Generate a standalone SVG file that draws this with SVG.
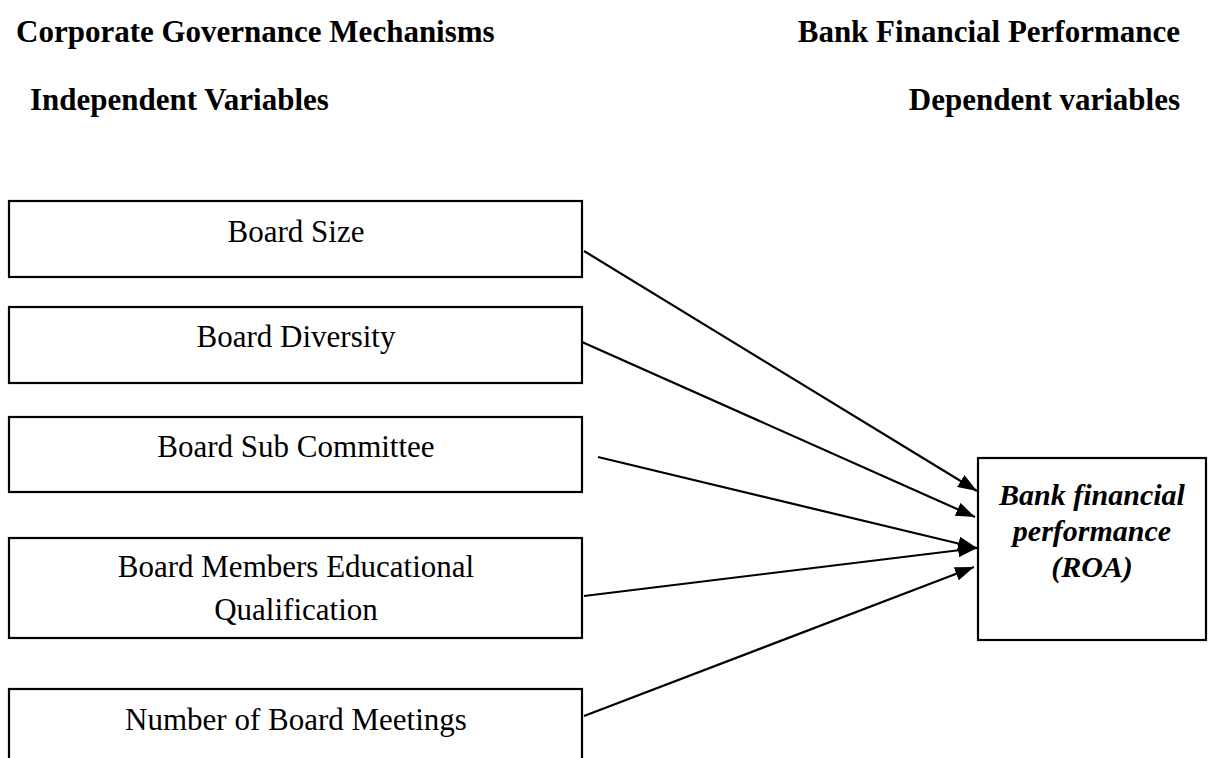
<svg xmlns="http://www.w3.org/2000/svg" width="1208" height="758" viewBox="0 0 1208 758">
  <style>
    .box { fill: #ffffff; stroke: #000000; stroke-width: 2.2; }
    .lbl { font-family: "Liberation Serif", "Times New Roman", serif; font-size: 31px; fill: #000000; text-anchor: middle; }
    .head { font-family: "Liberation Serif", "Times New Roman", serif; font-size: 31px; font-weight: bold; fill: #000000; }
    .out { font-family: "Liberation Serif", "Times New Roman", serif; font-size: 30px; font-weight: bold; font-style: italic; fill: #000000; text-anchor: middle; }
    .link { stroke: #000000; stroke-width: 2.2; fill: none; marker-end: url(#arrow); }
  </style>
  <defs>
    <marker id="arrow" markerUnits="userSpaceOnUse" markerWidth="20" markerHeight="14" refX="19" refY="7" orient="auto">
      <path d="M0,0 L19,7 L0,14 z" fill="#000000"/>
    </marker>
  </defs>
  <rect width="1208" height="758" fill="#ffffff"/>

  <!-- column headings -->
  <g id="headings">
    <text class="head" x="16" y="42">Corporate Governance Mechanisms</text>
    <text class="head" x="1180" y="42" text-anchor="end">Bank Financial Performance</text>
    <text class="head" x="30" y="110">Independent Variables</text>
    <text class="head" x="1180" y="110" text-anchor="end">Dependent variables</text>
  </g>

  <!-- independent variables -->
  <g id="board-size">
    <rect class="box" x="9" y="201" width="573" height="76"/>
    <text class="lbl" x="296" y="242">Board Size</text>
  </g>
  <g id="board-diversity">
    <rect class="box" x="9" y="307" width="573" height="76"/>
    <text class="lbl" x="296" y="347">Board Diversity</text>
  </g>
  <g id="board-sub-committee">
    <rect class="box" x="9" y="417" width="573" height="75"/>
    <text class="lbl" x="296" y="457">Board Sub Committee</text>
  </g>
  <g id="board-education">
    <rect class="box" x="9" y="538" width="573" height="100"/>
    <text class="lbl" x="296" y="577">Board Members Educational</text>
    <text class="lbl" x="296" y="620">Qualification</text>
  </g>
  <g id="board-meetings">
    <rect class="box" x="9" y="689" width="573" height="80"/>
    <text class="lbl" x="296" y="730">Number of Board Meetings</text>
  </g>

  <!-- dependent variable -->
  <g id="bank-performance">
    <rect class="box" x="978" y="458" width="228" height="182"/>
    <text class="out" x="1092" y="505">Bank financial</text>
    <text class="out" x="1092" y="541">performance</text>
    <text class="out" x="1092" y="577">(ROA)</text>
  </g>

  <!-- connectors -->
  <g id="connectors">
    <line class="link" x1="584" y1="251" x2="977" y2="491"/>
    <line class="link" x1="582" y1="342" x2="975" y2="517"/>
    <line class="link" x1="598" y1="457" x2="977" y2="548"/>
    <line class="link" x1="584" y1="596" x2="977" y2="548"/>
    <line class="link" x1="584" y1="716" x2="974" y2="567"/>
  </g>
</svg>
